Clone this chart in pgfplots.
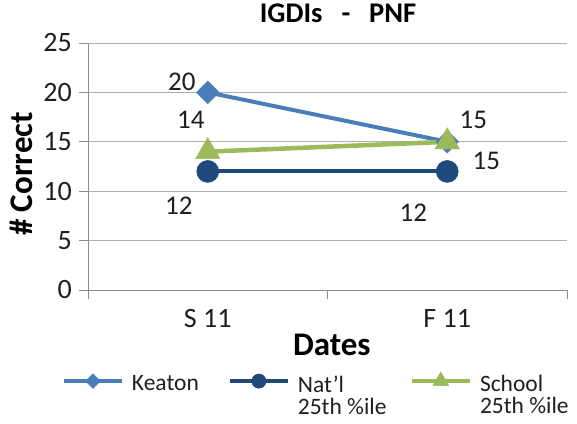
\documentclass[border=0pt]{standalone}
\usepackage{fontspec}
\setmainfont{Carlito}
\usepackage{pgfplots}
\pgfplotsset{compat=1.18}
\definecolor{keaton}{HTML}{4A7EBB}
\definecolor{natl}{HTML}{1F497D}
\definecolor{school}{HTML}{9BBB59}
\definecolor{gridc}{HTML}{AFAFAF}
\definecolor{axisc}{HTML}{8C8C8C}
\begin{document}
\begin{tikzpicture}[x=1pt,y=1pt]
\path[use as bounding box] (-88,-133) rectangle (489,290);
\begin{axis}[
  at={(0,0)}, anchor=south west,
  width=479pt, height=247pt, scale only axis,
  xmin=0, xmax=2, ymin=0, ymax=25,
  clip=false,
  axis lines*=left,
  axis line style={axisc, line width=0.9pt},
  xtick={0,1,2}, xticklabels={},
  extra x ticks={0.5,1.5}, extra x tick labels={S 11,F 11},
  extra x tick style={major tick length=0pt, xticklabel style={anchor=base, yshift=-37pt, inner sep=0pt}},
  ytick={0,5,10,15,20,25},
  /pgf/number format/assume math mode=true,
  ymajorgrids, grid style={gridc, line width=0.9pt},
  tick align=outside, major tick length=9pt,
  tick style={axisc, line width=0.9pt},
  tick label style={font=\fontsize{28}{30}\selectfont, text=black!88},
  yticklabel style={anchor=east, inner sep=0pt, xshift=-7pt},
  title={IGDIs\hspace{19pt}-\hspace{19pt}PNF},
  title style={font=\bfseries\fontsize{28.5}{30}\selectfont, at={(axis description cs:0.522,1)}, anchor=base, yshift=15pt, inner sep=0pt},
  xlabel={Dates},
  xlabel style={font=\bfseries\fontsize{33}{36}\selectfont, at={(axis description cs:0.509,0)}, anchor=base, yshift=-65pt, inner sep=0pt},
  ylabel={\# Correct},
  ylabel style={font=\bfseries\fontsize{33}{36}\selectfont, at={(axis description cs:-0.1169,0.47)}, anchor=base, inner sep=0pt},
  legend columns=3,
  legend style={at={(axis description cs:-0.0543,-0.332)}, anchor=north west, draw=none, fill=none,
    inner sep=0pt, outer sep=0pt,
    font=\fontsize{23.5}{22}\selectfont, text=black!88,
    cells={anchor=north west, align=left, inner sep=0pt},
    /tikz/every odd column/.append style={column sep=6pt},
    /tikz/column 2/.append style={column sep=27pt},
    /tikz/column 4/.append style={column sep=21pt}},
  legend image code/.code={\draw[mark repeat=2,mark phase=2,#1, every mark/.append style={scale=0.65}] plot coordinates {(0pt,-7.5pt) (29pt,-7.5pt) (58pt,-7.5pt)};},
  every node near coord/.append style={anchor=center, inner sep=0pt, xshift=\dx pt, yshift=\dy pt, font=\fontsize{27}{29}\selectfont, text=black!88},
  nodes near coords,
  point meta=explicit symbolic,
  visualization depends on={\thisrow{dx}\as\dx},
  visualization depends on={\thisrow{dy}\as\dy},
]
\addplot[keaton, line width=4pt, mark=square*, mark size=8pt, mark options={solid, rotate=45, line width=0.5pt, fill=keaton, draw=keaton}]
  table[x=x, y=y, meta=y]{
x y dx dy
0.5 20 -26 11
1.5 15 26 22
};
\addlegendentry{Keaton}
\addplot[natl, line width=4pt, mark=*, mark size=11pt, mark options={solid, line width=0.5pt, fill=natl, draw=natl}]
  table[x=x, y=y, meta=y]{
x y dx dy
0.5 12 -29 -34
1.5 12 -34 -41
};
\addlegendentry{Nat'l\\25th \%ile}
\addplot[school, line width=4.5pt, mark=triangle*, mark size=14pt, mark options={solid, line width=0.5pt, fill=school, draw=school}]
  table[x=x, y=y, meta=y]{
x y dx dy
0.5 14 -17 32
1.5 15 39 -19
};
\addlegendentry{School\\25th \%ile}
\end{axis}
\end{tikzpicture}
\end{document}
